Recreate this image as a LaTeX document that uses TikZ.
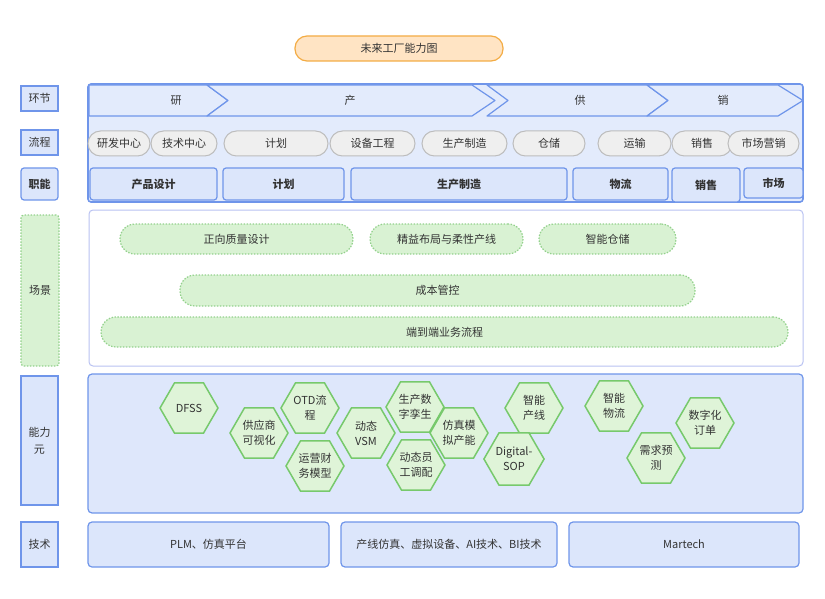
\documentclass[tikz,border=0pt]{standalone}
\usepackage{fontspec}
\setmainfont{Noto Sans CJK SC}
\usetikzlibrary{shapes.geometric}
\definecolor{txt}{HTML}{333333}
\definecolor{blueline}{HTML}{6F95EA}
\definecolor{bluefill}{HTML}{DCE6FB}
\definecolor{boxfill}{HTML}{E3EBFC}
\definecolor{capfill}{HTML}{DEE7FB}
\definecolor{pillline}{HTML}{BDBDBD}
\definecolor{pillfill}{HTML}{EFEFEF}
\definecolor{greenline}{HTML}{93D18C}
\definecolor{greenfill}{HTML}{D9F2D3}
\definecolor{hexline}{HTML}{77C96C}
\definecolor{hexfill}{HTML}{DFF4D8}
\definecolor{sceneline}{HTML}{B9C2F2}
\definecolor{orgline}{HTML}{F3AC45}
\definecolor{orgfill}{HTML}{FFE4C4}
\newcommand\rbox[7]{\node[#6, minimum width={(#4)-(#2)}, minimum height={(#5)-(#3)}] (#1) at ({((#2)+(#4))/2},{((#3)+(#5))/2}) {#7};}
\begin{document}
\begin{tikzpicture}[x=1pt,y=-1pt,
  every node/.style={inner sep=0pt, outer sep=0pt, text=txt, font=\fontsize{11}{14}\selectfont},
  titlebox/.style={draw=orgline, fill=orgfill, rounded corners=12pt, line width=1.2pt},
  lab/.style={draw=blueline, fill=bluefill, line width=1.2pt},
  labr/.style={lab, rounded corners=3pt, font=\bfseries\fontsize{11}{14}\selectfont},
  scenelab/.style={draw=greenline, fill=greenfill, dash pattern=on 1.5pt off 1.5pt, line width=1.2pt, rounded corners=3pt},
  outerbox/.style={draw=blueline, fill=boxfill, line width=1.6pt, rounded corners=3pt},
  chev/.style={draw=blueline, fill=boxfill, line width=1.2pt, line join=round},
  pill/.style={draw=pillline, fill=pillfill, rounded corners=12.5pt, line width=1pt},
  func/.style={draw=blueline, fill=bluefill, line width=1.2pt, rounded corners=3pt, font=\bfseries\fontsize{11}{14}\selectfont},
  scenebox/.style={draw=sceneline, fill=white, line width=1pt, rounded corners=4pt},
  spill/.style={draw=greenline, fill=greenfill, dash pattern=on 1.5pt off 1.5pt, line width=1.2pt, rounded corners=15pt},
  capbox/.style={draw=blueline, fill=capfill, line width=1.2pt, rounded corners=4pt},
  hexa/.style={regular polygon, regular polygon sides=6, minimum size=58pt, draw=hexline, fill=hexfill, line width=1.5pt, align=center, font=\fontsize{11}{15}\selectfont},
  techbox/.style={draw=blueline, fill=bluefill, line width=1.2pt, rounded corners=4pt}
]
\useasboundingbox (0,0) rectangle (825,599);

% title
\rbox{title}{295}{36}{503}{61}{titlebox}{未来工厂能力图}

% left labels
\rbox{l1}{21}{86}{58}{111}{lab}{环节}
\rbox{l2}{21}{130}{58}{155}{lab}{流程}
\rbox{l3}{21}{168}{58}{200}{labr}{职能}
\rbox{l4}{21}{215}{59}{366}{scenelab}{场景}
\rbox{l5}{21}{376}{58}{505}{lab, align=center, font=\fontsize{11}{17}\selectfont}{能力\\元}
\rbox{l6}{21}{522}{58}{567}{lab}{技术}

% top block
\rbox{top}{88}{84}{803}{202}{outerbox}{}
\draw[chev] (89,85) -- (207,85) -- (228,100.5) -- (207,116) -- (89,116) -- cycle;
\draw[chev] (207,85) -- (472,85) -- (495,100.5) -- (472,116) -- (207,116) -- (228,100.5) -- cycle;
\draw[chev] (487,85) -- (647,85) -- (668,100.5) -- (647,116) -- (487,116) -- (508,100.5) -- cycle;
\draw[chev] (647,85) -- (778,85) -- (803,100.5) -- (778,116) -- (647,116) -- (668,100.5) -- cycle;
\node (c1) at (176,100.5) {研};
\node (c2) at (350,100.5) {产};
\node (c3) at (580,100.5) {供};
\node (c4) at (723,100.5) {销};

% process pills
\rbox{p1}{88}{131}{150}{156}{pill}{研发中心}
\rbox{p2}{151}{131}{217}{156}{pill}{技术中心}
\rbox{p3}{224}{131}{328}{156}{pill}{计划}
\rbox{p4}{330}{131}{415}{156}{pill}{设备工程}
\rbox{p5}{422}{131}{507}{156}{pill}{生产制造}
\rbox{p6}{513}{131}{585}{156}{pill}{仓储}
\rbox{p7}{598}{131}{671}{156}{pill}{运输}
\rbox{p8}{672}{131}{732}{156}{pill}{销售}
\rbox{p9}{728}{131}{799}{156}{pill}{市场营销}

% functions
\rbox{f1}{90}{168}{217}{200}{func}{产品设计}
\rbox{f2}{223}{168}{344}{200}{func}{计划}
\rbox{f3}{351}{168}{567}{200}{func}{生产制造}
\rbox{f4}{573}{168}{668}{200}{func}{物流}
\rbox{f5}{672}{168}{740}{202}{func}{销售}
\rbox{f6}{744}{168}{803}{198}{func}{市场}

% scenes
\rbox{scene}{89}{210}{803}{366}{scenebox}{}
\rbox{s1}{120}{224}{353}{254}{spill}{正向质量设计}
\rbox{s2}{370}{224}{523}{254}{spill}{精益布局与柔性产线}
\rbox{s3}{539}{224}{676}{254}{spill}{智能仓储}
\rbox{s4}{180}{275}{695}{306}{spill}{成本管控}
\rbox{s5}{101}{317}{788}{347}{spill}{端到端业务流程}

% capabilities
\rbox{cap}{88}{374}{803}{513}{capbox}{}
\node[hexa] (h1) at (189,408) {DFSS};
\node[hexa] (h2) at (259,433) {供应商\\可视化};
\node[hexa] (h3) at (310,408) {OTD流\\程};
\node[hexa] (h4) at (315,466) {运营财\\务模型};
\node[hexa] (h5) at (366,433) {动态\\VSM};
\node[hexa] (h6) at (415,407) {生产数\\字孪生};
\node[hexa] (h7) at (416,465) {动态员\\工调配};
\node[hexa] (h8) at (459,433) {仿真模\\拟产能};
\node[hexa] (h9) at (534,408) {智能\\产线};
\node[hexa] (h10) at (514,459) {Digital-\\SOP};
\node[hexa] (h11) at (614,406) {智能\\物流};
\node[hexa] (h12) at (656,458) {需求预\\测};
\node[hexa] (h13) at (705,423) {数字化\\订单};

% technology
\rbox{t1}{88}{522}{329}{567}{techbox}{PLM、仿真平台}
\rbox{t2}{341}{522}{557}{567}{techbox}{产线仿真、虚拟设备、AI技术、BI技术}
\rbox{t3}{569}{522}{799}{567}{techbox}{Martech}
\end{tikzpicture}
\end{document}
